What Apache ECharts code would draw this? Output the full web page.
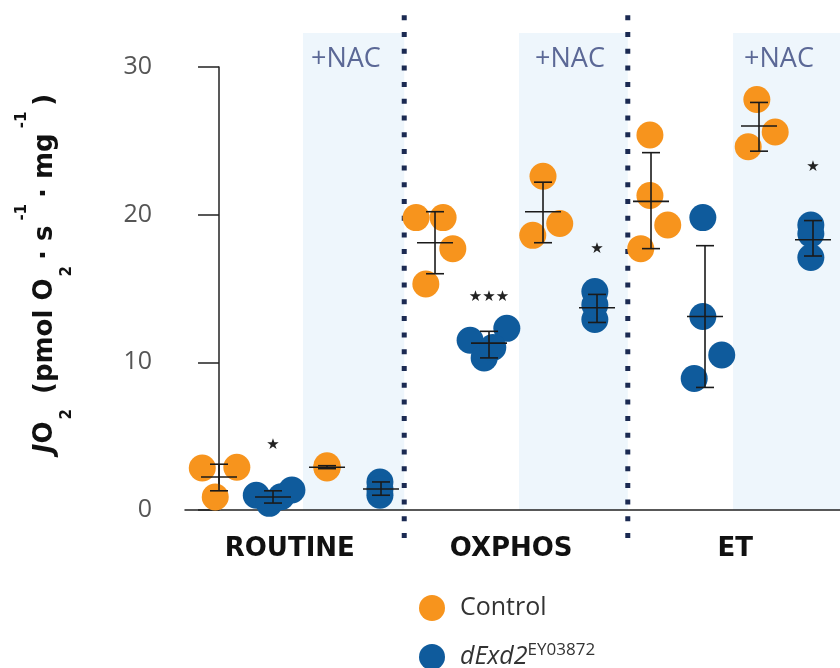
<!DOCTYPE html>
<html>
<head>
<meta charset="utf-8">
<script src="https://cdn.jsdelivr.net/npm/echarts@6/dist/echarts.min.js"></script>
<style>
  html, body { margin: 0; padding: 0; background: #fff; }
  #chart { width: 840px; height: 668px; }
</style>
</head>
<body>
<div id="chart"></div>
<script>
// 分组名称和位置 (x 轴单位 = 一个样本槽位)
var groups = ['ROUTINE', 'OXPHOS', 'ET'];
var groupCenters = [1.31, 5.41, 9.56];
var yTicks = [0, 10, 20, 30];

// 各点 [x槽位, JO2]
var controlPts = [
  [-0.31, 2.84], [0.33, 2.9], [-0.07, 0.88],
  [2.0, 3.0], [2.0, 2.9], [2.0, 2.85],
  [3.65, 19.8], [4.15, 19.8], [4.33, 17.7], [3.83, 15.3],
  [6.0, 22.6], [6.31, 19.4], [5.81, 18.6],
  [7.98, 25.4], [7.98, 21.3], [8.31, 19.3], [7.81, 17.7],
  [9.96, 27.8], [10.3, 25.6], [9.8, 24.6]
];
var mutantPts = [
  [0.69, 1.0], [0.93, 0.45], [1.15, 0.9], [1.35, 1.35],
  [2.98, 1.9], [2.98, 1.0], [2.98, 1.4],
  [4.65, 11.5], [5.33, 12.3], [4.91, 10.3], [5.07, 11.0],
  [6.96, 14.8], [6.96, 12.9], [6.96, 13.9],
  [8.96, 19.8], [8.96, 13.1], [9.31, 10.5], [8.8, 8.9],
  [10.96, 19.3], [10.96, 18.7], [10.96, 17.1]
];

// 均值和误差线 (每个槽位)
var barSlots = [0, 1, 2, 3, 4, 5, 6, 7, 8, 9, 10, 11];
var means = [2.23, 0.88, 2.9, 1.42, 18.1, 11.3, 20.2, 13.7, 20.9, 13.1, 26.0, 18.3];
var errLow = [1.3, 0.47, 2.8, 1.0, 16.0, 10.3, 18.1, 12.7, 17.7, 8.3, 24.3, 17.2];
var errHigh = [3.1, 1.3, 3.0, 1.9, 20.2, 12.1, 22.2, 14.6, 24.2, 17.9, 27.6, 19.6];

// 显著性标记
var starX = [1, 5, 7, 11];
var starY = [4.4, 14.4, 17.7, 23.2];
var starText = ['★', '★★★', '★', '★'];

// +NAC 背景区域和分隔线
var nacStart = [1.556, 5.556, 9.52];
var nacEnd = [3.43, 7.57, 11.5];
var nacLabelX = [2.35, 6.5, 10.37];
var nacTop = 32.3;
var dividerX = [3.43, 7.57];
var dividerRange = [-2.6, 33.5];

var chart = echarts.init(document.getElementById('chart'));

var errData = barSlots.map(function (s, i) { return [s, means[i], errLow[i], errHigh[i]]; });
var nacData = nacStart.map(function (s, i) { return [s, nacEnd[i], nacLabelX[i]]; });
var starData = starX.map(function (x, i) { return [x, starY[i], i]; });

// 图例文字样式
var legendText = {
  padding: [0, 0, 0, 10],
  rich: {
    n: { fontFamily: 'Open Sans', fontSize: 25, color: '#333' },
    it: { fontFamily: 'Open Sans', fontStyle: 'italic', fontSize: 25, color: '#333', lineHeight: 30 },
    sup: { fontFamily: 'Open Sans', fontSize: 17, color: '#333', verticalAlign: 'top', lineHeight: 20 }
  }
};
function legendFormatter(name) {
  return name === 'dExd2' ? '{it|dExd2}{sup|EY03872}' : '{n|' + name + '}';
}

var option = {
  animation: false,
  grid: { left: 185, right: 0, top: 67, bottom: 158, outerBoundsMode: 'none', containLabel: false },
  legend: [
    {
      left: 419, top: 595, padding: 0, itemWidth: 26, itemHeight: 26,
      data: ['Control'], formatter: legendFormatter, textStyle: legendText
    },
    {
      left: 419, top: 642, padding: 0, itemWidth: 26, itemHeight: 26,
      data: ['dExd2'], formatter: legendFormatter, textStyle: legendText
    }
  ],
  xAxis: {
    type: 'value',
    min: -0.63,
    max: 11.5,
    splitLine: { show: false },
    axisTick: { show: false },
    axisLine: { lineStyle: { color: '#222', width: 1.5 } },
    axisLabel: {
      customValues: groupCenters,
      margin: 26,
      fontFamily: 'DejaVu Sans',
      fontWeight: 'bold',
      fontSize: 26,
      color: '#111',
      formatter: function (v) {
        var i = groupCenters.indexOf(v);
        return i >= 0 ? groups[i] : '';
      }
    }
  },
  yAxis: {
    type: 'value',
    min: 0,
    max: 30,
    interval: 10,
    splitLine: { show: false },
    axisLine: { show: true, lineStyle: { color: '#222', width: 1.5 } },
    axisTick: { show: true, length: 21, lineStyle: { color: '#222', width: 1.5 } },
    axisLabel: {
      margin: 33,
      fontFamily: 'Open Sans',
      fontSize: 25,
      color: '#555',
      formatter: function (v) { return yTicks.indexOf(v) >= 0 ? String(v) : ''; }
    },
    name: '{j|J}{b|O}{sub|2}{b| (pmol O}{sub|2}{b|· s}{sup|-1}{b|· mg}{sup|-1}{b|)}',
    nameLocation: 'middle',
    nameGap: 110,
    nameRotate: 90,
    nameTextStyle: {
      padding: [0, 0, 0, 30],
      rich: {
        j: { fontFamily: 'DejaVu Sans', fontWeight: 'bold', fontStyle: 'italic', fontSize: 26, color: '#111', lineHeight: 60 },
        b: { fontFamily: 'DejaVu Sans', fontWeight: 'bold', fontSize: 26, color: '#111', lineHeight: 60 },
        sub: { fontFamily: 'DejaVu Sans', fontWeight: 'bold', fontSize: 15, color: '#111', lineHeight: 30, verticalAlign: 'bottom', padding: [0, 6, 0, 2] },
        sup: { fontFamily: 'DejaVu Sans', fontWeight: 'bold', fontSize: 15, color: '#111', lineHeight: 22, verticalAlign: 'top', padding: [0, 6, 0, 5] }
      }
    }
  },
  series: [
    {
      // +NAC 背景
      type: 'custom',
      z: 0,
      silent: true,
      data: nacData,
      encode: { x: [0, 1] },
      renderItem: function (params, api) {
        var p0 = api.coord([api.value(0), nacTop]);
        var p1 = api.coord([api.value(1), 0]);
        var pl = api.coord([api.value(2), 30.5]);
        return {
          type: 'group',
          children: [
            { type: 'rect', shape: { x: p0[0], y: p0[1], width: p1[0] - p0[0], height: p1[1] - p0[1] }, style: { fill: '#eef6fc' } },
            { type: 'text', x: pl[0], y: pl[1], style: { text: '+NAC', fontFamily: 'Open Sans', fontSize: 27, fill: '#5b6896', align: 'center', verticalAlign: 'middle' } }
          ]
        };
      }
    },
    {
      // 分隔虚线
      type: 'custom',
      z: 1,
      silent: true,
      data: dividerX.map(function (x) { return [x]; }),
      encode: { x: 0 },
      renderItem: function (params, api) {
        var a = api.coord([api.value(0), dividerRange[1]]);
        var b = api.coord([api.value(0), dividerRange[0]]);
        return {
          type: 'line',
          shape: { x1: a[0], y1: a[1], x2: b[0], y2: b[1] },
          style: { stroke: '#1b2a52', lineWidth: 5, lineDash: [5, 11.7] }
        };
      }
    },
    {
      name: 'Control',
      type: 'scatter',
      z: 3,
      symbolSize: 27,
      itemStyle: { color: '#f7941d', opacity: 1 },
      data: controlPts
    },
    {
      name: 'dExd2',
      type: 'scatter',
      z: 3,
      symbolSize: 27,
      itemStyle: { color: '#0f5b9c', opacity: 1 },
      data: mutantPts
    },
    {
      // 均值 ± 误差
      type: 'custom',
      z: 5,
      silent: true,
      data: errData,
      encode: { x: 0, y: [1, 2, 3] },
      renderItem: function (params, api) {
        var c = api.coord([api.value(0), api.value(1)]);
        var lo = api.coord([api.value(0), api.value(2)]);
        var hi = api.coord([api.value(0), api.value(3)]);
        var st = { stroke: '#1a1a1a', lineWidth: 1.6 };
        return {
          type: 'group',
          children: [
            { type: 'line', shape: { x1: c[0], y1: hi[1], x2: c[0], y2: lo[1] }, style: st },
            { type: 'line', shape: { x1: c[0] - 9, y1: hi[1], x2: c[0] + 9, y2: hi[1] }, style: st },
            { type: 'line', shape: { x1: c[0] - 9, y1: lo[1], x2: c[0] + 9, y2: lo[1] }, style: st },
            { type: 'line', shape: { x1: c[0] - 18, y1: c[1], x2: c[0] + 18, y2: c[1] }, style: st }
          ]
        };
      }
    },
    {
      // 星号
      type: 'custom',
      z: 5,
      silent: true,
      data: starData,
      encode: { x: 0, y: 1 },
      renderItem: function (params, api) {
        var p = api.coord([api.value(0), api.value(1)]);
        return {
          type: 'text',
          x: p[0],
          y: p[1],
          style: { text: starText[api.value(2)], fontFamily: 'DejaVu Sans', fontSize: 15, fill: '#222', align: 'center', verticalAlign: 'middle' }
        };
      }
    }
  ]
};

chart.setOption(option);
</script>
</body>
</html>
